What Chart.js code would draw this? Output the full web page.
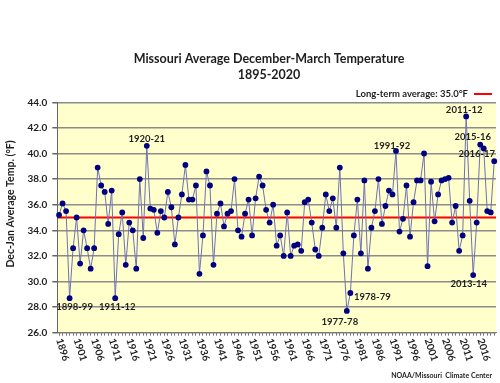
<!DOCTYPE html>
<html>
<head>
<meta charset="utf-8">
<script src="https://cdn.jsdelivr.net/npm/chart.js@4.4.1/dist/chart.umd.min.js"></script>
<style>
  html, body { margin: 0; padding: 0; background: #ffffff; }
  #wrap { width: 500px; height: 383px; position: relative; }
  canvas { display: block; }
</style>
</head>
<body>
<div id="wrap"><canvas id="c" width="500" height="383"></canvas></div>
<script>
// ---------------- DATA ----------------
const CATEGORIES = [
  1896,1897,1898,1899,1900,1901,1902,1903,1904,1905,1906,1907,1908,1909,1910,
  1911,1912,1913,1914,1915,1916,1917,1918,1919,1920,1921,1922,1923,1924,1925,
  1926,1927,1928,1929,1930,1931,1932,1933,1934,1935,1936,1937,1938,1939,1940,
  1941,1942,1943,1944,1945,1946,1947,1948,1949,1950,1951,1952,1953,1954,1955,
  1956,1957,1958,1959,1960,1961,1962,1963,1964,1965,1966,1967,1968,1969,1970,
  1971,1972,1973,1974,1975,1976,1977,1978,1979,1980,1981,1982,1983,1984,1985,
  1986,1987,1988,1989,1990,1991,1992,1993,1994,1995,1996,1997,1998,1999,2000,
  2001,2002,2003,2004,2005,2006,2007,2008,2009,2010,2011,2012,2013,2014,2015,
  2016,2017,2018,2019,2020
].map(String);

const TEMPS = [
  35.2,36.1,35.5,28.7,32.6,35.0,31.4,34.0,32.6,31.0,
  32.6,38.9,37.5,37.0,34.5,37.1,28.7,33.7,35.4,31.3,
  34.6,34.0,31.0,38.0,33.4,40.6,35.7,35.6,33.8,35.5,
  35.0,37.0,35.8,32.9,35.0,36.8,39.1,36.4,36.4,37.5,
  30.6,33.6,38.6,37.5,31.3,35.3,36.1,34.3,35.3,35.5,
  38.0,34.0,33.5,35.3,36.4,33.6,36.5,38.2,37.5,35.6,
  34.6,36.0,32.8,33.6,32.0,35.4,32.0,32.8,32.9,32.4,
  36.2,36.4,34.6,32.5,32.0,34.2,36.8,35.5,36.5,34.2,
  38.9,32.2,27.7,29.1,33.6,36.4,32.2,37.9,31.0,34.2,
  35.5,38.0,34.5,35.9,37.1,36.8,40.2,33.9,34.9,37.5,
  33.5,36.2,37.9,37.9,40.0,31.2,37.8,34.7,36.8,37.9,
  38.0,38.1,34.6,35.9,32.4,33.6,42.9,36.3,30.5,34.6,
  40.7,40.4,35.5,35.4,39.4
];

const LONG_TERM_AVG = 35.0;

const X_TICK_LABELS = ['1896','1901','1906','1911','1916','1921','1926','1931','1936','1941',
  '1946','1951','1956','1961','1966','1971','1976','1981','1986','1991','1996','2001','2006','2011','2016'];

const Y_MIN = 26, Y_MAX = 44, Y_STEP = 2;

const ANNOT_TEXT  = ['1898-99','1911-12','1920-21','1977-78','1978-79','1991-92','2011-12','2015-16','2016-17','2013-14'];
const ANNOT_CAT   = ['1899','1912','1921','1978','1979','1992','2012','2016','2017','2014'];

const TITLE_LINES = ['Missouri Average December-March Temperature', '1895-2020'];
const LEGEND_TEXT = 'Long-term average: 35.0°F';
const Y_TITLE = 'Dec-Jan Average Temp. (°F)';
const CREDIT = 'NOAA/Missouri  Climate Center';

// ---------------- LAYOUT / STYLE ----------------
const FONT = 'Lato, "Open Sans", sans-serif';
// offsets (dx, dy) of annotation label centres relative to their point
const ANNOT_OFFSET = [[5,8.5],[2,8.5],[0,-7],[-7,11],[22,3.5],[-4,-5.5],[-2,-6.5],[-7.5,-7.5],[-7,6],[-4.5,8.5]];

const bgPlugin = {
  id: 'bg',
  beforeDraw(chart) {
    const {ctx, chartArea: a} = chart;
    ctx.save();
    ctx.fillStyle = '#FFFFCC';
    ctx.fillRect(a.left, a.top, a.right - a.left, a.bottom - a.top);
    ctx.restore();
  },
  beforeDatasetsDraw(chart) {
    const {ctx, chartArea: a, scales} = chart;
    const y = scales.y.getPixelForValue(LONG_TERM_AVG);
    ctx.save();
    ctx.strokeStyle = '#FF0000';
    ctx.lineWidth = 2;
    ctx.beginPath();
    ctx.moveTo(a.left, y);
    ctx.lineTo(a.right, y);
    ctx.stroke();
    ctx.restore();
  }
};

const textPlugin = {
  id: 'texts',
  afterDraw(chart) {
    const {ctx, chartArea: a, scales} = chart;
    ctx.save();
    ctx.fillStyle = '#1e1e1e';
    // title
    ctx.textAlign = 'center';
    ctx.textBaseline = 'middle';
    ctx.font = 'bold 12.5px ' + FONT;
    ctx.fillText(TITLE_LINES[0], 269, 59);
    ctx.fillText(TITLE_LINES[1], 269, 75);

    // legend
    ctx.font = 'bold 9.5px ' + FONT;
    ctx.textAlign = 'right';
    ctx.fillText(LEGEND_TEXT, 468, 94);
    ctx.strokeStyle = '#FF0000';
    ctx.lineWidth = 2;
    ctx.beginPath();
    ctx.moveTo(474, 94);
    ctx.lineTo(492, 94);
    ctx.stroke();

    // y title
    ctx.save();
    ctx.translate(11, 204);
    ctx.rotate(-Math.PI / 2);
    ctx.textAlign = 'center';
    ctx.font = 'bold 10.5px ' + FONT;
    ctx.fillText(Y_TITLE, 0, 0);
    ctx.restore();

    // x tick labels (rotated clockwise, starting at the tick)
    ctx.font = 'bold 10px ' + FONT;
    ctx.textAlign = 'left';
    ctx.textBaseline = 'middle';
    X_TICK_LABELS.forEach(lab => {
      const x = scales.x.getPixelForValue(CATEGORIES.indexOf(lab));
      ctx.save();
      ctx.translate(x, a.bottom + 6);
      ctx.rotate(72 * Math.PI / 180);
      ctx.fillText(lab, 0, 0);
      ctx.restore();
    });

    // annotations
    ctx.font = 'bold 9.5px ' + FONT;
    ctx.textAlign = 'center';
    ANNOT_TEXT.forEach((t, k) => {
      const idx = CATEGORIES.indexOf(ANNOT_CAT[k]);
      const x = scales.x.getPixelForValue(idx);
      const y = scales.y.getPixelForValue(TEMPS[idx]);
      ctx.fillText(t, x + ANNOT_OFFSET[k][0], y + ANNOT_OFFSET[k][1]);
    });

    // credit
    ctx.font = 'bold 7px ' + FONT;
    ctx.textAlign = 'right';
    ctx.fillText(CREDIT, 492, 376);
    ctx.restore();
  }
};

new Chart(document.getElementById('c'), {
  type: 'line',
  data: {
    labels: CATEGORIES,
    datasets: [{
      data: TEMPS,
      borderColor: '#7070b4',
      borderWidth: 1,
      pointRadius: 2.9,
      pointBackgroundColor: '#000080',
      pointBorderColor: '#000080',
      pointBorderWidth: 0,
      tension: 0
    }]
  },
  options: {
    responsive: false,
    animation: false,
    devicePixelRatio: 1,
    layout: { padding: { top: 102.3, right: 3, bottom: 0, left: 0 } },
    plugins: { legend: { display: false }, tooltip: { enabled: false }, title: { display: false } },
    scales: {
      x: {
        type: 'category',
        offset: true,
        grid: { display: true, drawOnChartArea: false, drawTicks: true, tickLength: 3, color: '#777', tickColor: '#777', offset: false },
        border: { color: '#777', width: 1 },
        ticks: { display: false, autoSkip: false },
        afterFit(s) { s.height = 50.3; }
      },
      y: {
        min: Y_MIN, max: Y_MAX,
        ticks: {
          stepSize: Y_STEP,
          padding: 5,
          color: '#1e1e1e',
          font: { family: FONT, weight: 'bold', size: 10 },
          callback: v => Number(v).toFixed(1)
        },
        grid: { color: '#8c8c8c', lineWidth: 1.5, drawTicks: true, tickLength: 5, tickColor: '#666' },
        border: { color: '#666', width: 1 },
        afterFit(s) { s.width = 57.3; }
      }
    }
  },
  plugins: [bgPlugin, textPlugin]
});
</script>
</body>
</html>
